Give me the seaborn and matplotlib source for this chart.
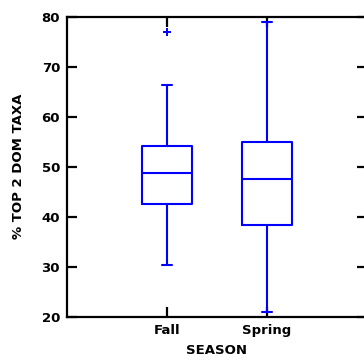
import matplotlib
matplotlib.use("Agg")
import matplotlib.pyplot as plt
import seaborn as sns
import pandas as pd

# Five-number summaries (whisker low, Q1, median, Q3, whisker high) per season
seasons = ["Fall", "Spring"]
fall_summary = [30.3, 42.5, 48.7, 54.2, 66.3]
spring_summary = [20.9, 38.3, 47.6, 55.0, 79.0]
# Points beyond the whiskers
outlier_season = ["Fall"]
outlier_value = [77.0]

yticks = [20, 30, 40, 50, 60, 70, 80]

df = pd.DataFrame({
    "SEASON": [seasons[0]] * len(fall_summary) + [seasons[1]] * len(spring_summary),
    "value": fall_summary + spring_summary,
})
out_df = pd.DataFrame({"SEASON": outlier_season, "value": outlier_value})

sns.set_style("white")
plt.rcParams["font.family"] = ["DejaVu Sans"]
plt.rcParams["text.color"] = "black"
plt.rcParams["axes.labelcolor"] = "black"
plt.rcParams["xtick.color"] = "black"
plt.rcParams["ytick.color"] = "black"

fig = plt.figure(figsize=(3.64, 3.62), dpi=100)
ax = fig.add_axes([0.184, 0.125, 0.824, 0.829])

blue = "#0000ff"
lw = 1.5
sns.boxplot(
    data=df, x="SEASON", y="value", order=seasons, ax=ax,
    width=0.5, whis=(0, 100), fill=False, color=blue, linewidth=lw,
    boxprops=dict(color=blue, linewidth=lw),
    whiskerprops=dict(color=blue, linewidth=lw),
    capprops=dict(color=blue, linewidth=lw),
    medianprops=dict(color=blue, linewidth=lw),
    showfliers=False,
)
# shorten the whisker caps
for line in ax.lines:
    xd = line.get_xdata()
    yd = line.get_ydata()
    if len(xd) == 2 and yd[0] == yd[1] and 0.01 < abs(xd[1] - xd[0]) < 0.4:
        c = (xd[0] + xd[1]) / 2
        line.set_xdata([c - 0.05, c + 0.05])

sns.stripplot(data=out_df, x="SEASON", y="value", order=seasons, ax=ax,
              marker="+", color=blue, size=6, linewidth=1.4, jitter=False)

fs = 9.5
ax.set_xlim(-1, 2)
ax.set_ylim(20, 80)
ax.set_yticks(yticks)
ax.set_yticklabels([str(t) for t in yticks], fontsize=fs, fontweight="bold")
ax.set_xticks([0, 1])
ax.set_xticklabels(seasons, fontsize=fs, fontweight="bold")
ax.set_xlabel("SEASON", fontsize=fs, fontweight="bold", labelpad=5, color="black")
ax.set_ylabel("% TOP 2 DOM TAXA", fontsize=fs, fontweight="bold", labelpad=12, color="black")

for s in ax.spines.values():
    s.set_visible(True)
    s.set_color("black")
    s.set_linewidth(1.6)

ax.tick_params(axis="both", direction="in", length=7, width=1.6, color="black",
               labelcolor="black", top=True, right=True, bottom=True, left=True, pad=5)

fig.savefig("out.png", dpi=100)
